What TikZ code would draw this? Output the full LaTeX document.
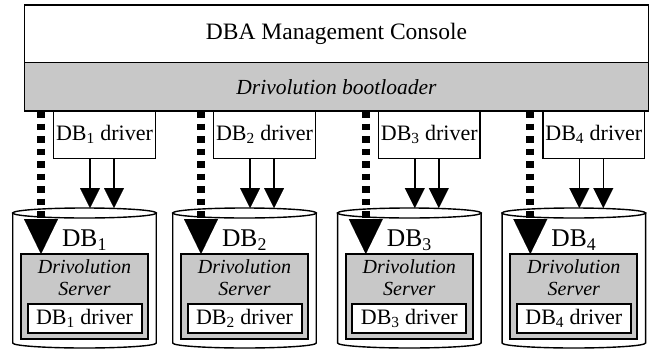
\documentclass[tikz,border=0pt]{standalone}
\usepackage{fontspec}
\setmainfont{Liberation Serif}
\usetikzlibrary{arrows.meta}
\definecolor{boxgray}{RGB}{200,200,200}
\begin{document}
\begin{tikzpicture}[x=1pt,y=-1pt,
  frame/.style={draw=black, line width=1.4pt, inner sep=0pt, outer sep=0pt, align=center},
  console/.style={frame, fill=white, minimum width=624pt, minimum height=57.5pt, font=\fontsize{23.5}{27}\selectfont},
  boot/.style={frame, fill=boxgray, minimum width=624pt, minimum height=48.5pt, font=\fontsize{21.5}{25}\selectfont\itshape},
  drvbox/.style={frame, fill=white, minimum width=101.5pt, minimum height=47.5pt, font=\fontsize{22}{25}\selectfont},
  srvbox/.style={draw=black, line width=2pt, fill=boxgray, minimum width=127pt, minimum height=85pt, inner sep=0pt, outer sep=0pt},
  srvtext/.style={anchor=base, inner sep=0pt, font=\fontsize{20}{22}\selectfont\itshape},
  innerbox/.style={draw=black, line width=2pt, fill=white, minimum width=114pt, minimum height=29.5pt, inner sep=0pt, font=\fontsize{22}{25}\selectfont},
  dbtitle/.style={anchor=base, inner sep=0pt, font=\fontsize{25.5}{28}\selectfont},
  cyl/.style={draw=black, line width=1.4pt, fill=white},
  thinarrow/.style={line width=1.4pt, -{Triangle[width=20pt,length=20pt,line width=0.01pt]}},
  dotarrow/.style={line width=8pt, dash pattern=on 6.5pt off 6pt, -{Triangle[width=34pt,length=35pt,line width=0.01pt]}},
]
\useasboundingbox (0,0) rectangle (652,348);
\node[console] (con) at (336.5,33.75) {DBA Management Console};
\node[boot] (boot) at (336.5,86.75) {Drivolution bootloader};
\foreach \i/\cx in {1/84.5, 2/244.5, 3/409.3, 4/573.8}{
  \node[drvbox] (drv\i) at (\cx+20,134.75) {DB\textsubscript{\i} driver};
  % cylinder
  \path[cyl] (\cx-71.75,213) -- (\cx-71.75,343)
     arc[start angle=180, end angle=360, x radius=71.75pt, y radius=5pt]
     -- (\cx+71.75,213) -- cycle;
  \draw[line width=1.4pt, fill=white] (\cx,213) ellipse[x radius=71.75pt, y radius=5pt];
  \coordinate (top\i) at (\cx,208);
  \node[dbtitle] (db\i) at (\cx,246.5) {DB\textsubscript{\i}};
  \node[srvbox] (srv\i) at (\cx,296.5) {};
  \node[srvtext] (sa\i) at (\cx,273.3) {Drivolution};
  \node[srvtext] (sb\i) at (\cx,295) {Server};
  \node[innerbox] (in\i) at (\cx,318.4) {DB\textsubscript{\i} driver};
  % thin arrows
  \draw[thinarrow] ([xshift=-14.5pt]drv\i.south) -- ([xshift=-14.5pt]drv\i.south |- top\i);
  \draw[thinarrow] ([xshift=9.5pt]drv\i.south) -- ([xshift=9.5pt]drv\i.south |- top\i);
  % dotted arrow
  \coordinate (ds\i) at (\cx-43.5,111);
  \draw[dotarrow] (ds\i) -- (ds\i |- srv\i.north);
}
\end{tikzpicture}
\end{document}
